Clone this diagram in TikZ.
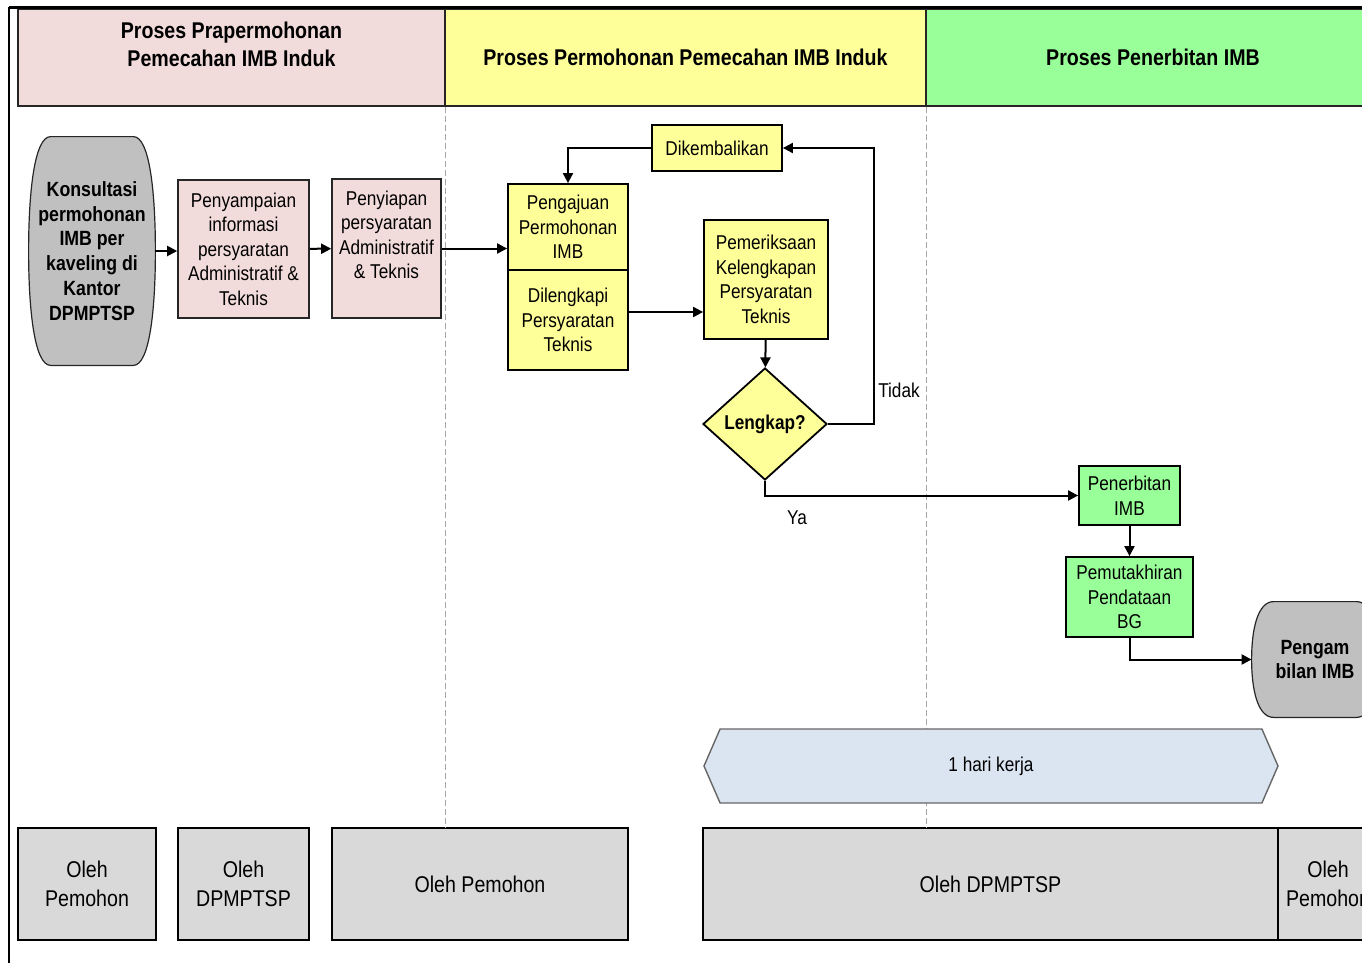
\documentclass[tikz,border=0pt]{standalone}
\usepackage{fontspec}
\setmainfont{Liberation Sans}[FakeStretch=0.86]
\usepackage{xcolor}
\usepackage{tikz}
\usetikzlibrary{positioning,shapes.geometric,shapes.symbols,arrows.meta,backgrounds}
\definecolor{hdrpink}{HTML}{F2DCDB}
\definecolor{hdryel}{HTML}{FFFF99}
\definecolor{hdrgrn}{HTML}{99FF99}
\definecolor{termgray}{HTML}{C0C0C0}
\definecolor{ohgray}{HTML}{D9D9D9}
\definecolor{harifill}{HTML}{DBE5F1}

\begin{document}
\begin{tikzpicture}[x=0.5pt,y=-0.5pt,
  every node/.style={font=\fontsize{10}{12.25}\selectfont,align=center,inner sep=2pt},
  hdr/.style={rectangle,draw=black!85,line width=0.8pt,minimum height=48.5pt,
              font=\bfseries\fontsize{11.4}{14}\selectfont},
  pbox/.style={rectangle,draw=black!85,line width=0.8pt,fill=hdrpink},
  ybox/.style={rectangle,draw=black,line width=0.9pt,fill=hdryel},
  gbox/.style={rectangle,draw=black,line width=0.9pt,fill=hdrgrn},
  termtxt/.style={rectangle,font=\bfseries\fontsize{10.3}{12.4}\selectfont},
  termline/.style={draw=black!85,line width=0.6pt,fill=termgray},
  ohbox/.style={rectangle,draw=black,line width=0.9pt,fill=ohgray,minimum height=56pt,
               font=\fontsize{11.4}{14.5}\selectfont},
  lane/.style={gray!70,dash pattern=on 3pt off 1.5pt,line width=0.6pt},
  arr/.style={-{Triangle[length=5pt,width=5pt]},line width=1pt},
  lbl/.style={font=\fontsize{10}{12}\selectfont},
]
\clip (0,0) rectangle (1362,965);

% lanes
\node[hdr,fill=hdrpink,minimum width=213.5pt] (hdrA) at (231.5,57.5) {};
\node[hdr,fill=hdryel,minimum width=240.5pt] (hdrB) at (685.5,57.5) {Proses Permohonan Pemecahan IMB Induk};
\node[hdr,fill=hdrgrn,minimum width=227pt] (hdrC) at (1153,57.5) {Proses Penerbitan IMB};
\node[font=\bfseries\fontsize{11.4}{14}\selectfont] (hdrAtxt) at (231.5,44) {Proses Prapermohonan\\Pemecahan IMB Induk};
\draw[line width=1pt] (9,963) -- (9,7);
\draw[line width=1.5pt] (9,7) -- (1370,7);

% bottom row
\node[ohbox,minimum width=69pt] (oleh1) at (87,884) {Oleh\\Pemohon};
\node[ohbox,minimum width=65.5pt] (oleh2) at (243.5,884) {Oleh\\DPMPTSP};
\node[ohbox,minimum width=148pt] (oleh3) at (480,884) {Oleh Pemohon};
\node[ohbox,minimum width=287.5pt] (oleh4) at (990.5,884) {Oleh DPMPTSP};
\node[ohbox,minimum width=50pt] (oleh5) at (1328,884) {Oleh\\Pemohon};

\draw[lane] (hdrA.south east) -- (hdrA.south east |- oleh3.north);
\draw[lane] (hdrB.south east) -- (hdrB.south east |- oleh4.north);

% prapermohonan
\node[termtxt,minimum width=63pt,minimum height=114pt] (konsul) at (92,251)
  {Konsultasi\\permohonan\\IMB per\\kaveling di\\Kantor\\DPMPTSP};
\node[pbox,minimum width=65.5pt,minimum height=69pt] (sampai) at (243.5,249)
  {Penyampaian\\informasi\\persyaratan\\Administratif \&\\Teknis};
\node[pbox,minimum width=54.5pt,minimum height=69.5pt] (siap) at (386.5,248.5) {};
\node (siapTxt) at ([yshift=6.75pt]siap.center) {Penyiapan\\persyaratan\\Administratif\\\& Teknis};

% permohonan
\node[ybox,minimum width=60pt,minimum height=43pt] (ajuan) at (568,227) {Pengajuan\\Permohonan\\IMB};
\node[ybox,minimum width=60pt,minimum height=50pt] (lengkapi) at (568,320) {Dilengkapi\\Persyaratan\\Teknis};
\node[ybox,minimum width=65pt,minimum height=23pt] (kembali) at (717,148) {Dikembalikan};
\node[ybox,minimum width=62pt,minimum height=59.5pt] (periksa) at (766,279.5)
  {Pemeriksaan\\Kelengkapan\\Persyaratan\\Teknis};
\node[diamond,draw=black,line width=0.9pt,fill=hdryel,inner sep=0pt,aspect=1,
      minimum width=62pt,minimum height=56pt,font=\bfseries\fontsize{10}{12}\selectfont] (cek) at (765,424) {Lengkap?};

% penerbitan
\node[gbox,minimum width=50.5pt,minimum height=29.5pt] (terbit) at (1129.5,495.5) {Penerbitan\\IMB};
\node[gbox,minimum width=63.5pt,minimum height=40pt] (mutakhir) at (1129.5,597) {Pemutakhiran\\Pendataan\\BG};
\node[termtxt,minimum width=63pt,minimum height=57.5pt] (ambil) at (1315,659.5) {Pengam\\bilan IMB};

\node[signal,signal to=east and west,signal pointer angle=133,draw=gray!80!black,line width=0.7pt,
      fill=harifill,minimum width=287pt,minimum height=37pt] (hari) at (991,766) {1 hari kerja};

\begin{scope}[on background layer]
\draw[termline] ([xshift=11pt]konsul.north west) -- ([xshift=-11pt]konsul.north east)
  .. controls ([xshift=-3pt]konsul.north east) and ([yshift=30pt]konsul.east) .. (konsul.east)
  .. controls ([yshift=-30pt]konsul.east) and ([xshift=-3pt]konsul.south east) .. ([xshift=-11pt]konsul.south east)
  -- ([xshift=11pt]konsul.south west)
  .. controls ([xshift=3pt]konsul.south west) and ([yshift=-30pt]konsul.west) .. (konsul.west)
  .. controls ([yshift=30pt]konsul.west) and ([xshift=3pt]konsul.north west) .. ([xshift=11pt]konsul.north west)
  -- cycle;
\draw[termline] ([xshift=11pt]ambil.north west) -- ([xshift=-11pt]ambil.north east)
  .. controls ([xshift=-3pt]ambil.north east) and ([yshift=15pt]ambil.east) .. (ambil.east)
  .. controls ([yshift=-15pt]ambil.east) and ([xshift=-3pt]ambil.south east) .. ([xshift=-11pt]ambil.south east)
  -- ([xshift=11pt]ambil.south west)
  .. controls ([xshift=3pt]ambil.south west) and ([yshift=-15pt]ambil.west) .. (ambil.west)
  .. controls ([yshift=15pt]ambil.west) and ([xshift=3pt]ambil.north west) .. ([xshift=11pt]ambil.north west)
  -- cycle;
\end{scope}

\coordinate (tidakTurn) at (874,424);
\node[lbl] (tidak) at (899,390) {Tidak};
\node[lbl] (ya) at (797,518) {Ya};

\draw[arr] (konsul.east) -- (konsul.east -| sampai.west);
\draw[arr] (sampai) -- (siap);
\draw[arr] (siap.east) -- (siap.east -| ajuan.west);
\draw[arr] ([yshift=4pt]lengkapi.east) -- ([yshift=4pt]lengkapi.east -| periksa.west);
\draw[arr] (periksa) -- (cek);
\draw[arr] (cek.east) -- (tidakTurn) |- (kembali.east);
\draw[arr] (kembali.west) -| (ajuan.north);
\draw[arr] (cek.south) |- (terbit.west);
\draw[arr] (terbit) -- (mutakhir);
\draw[arr] (mutakhir.south) |- (ambil.west);
\end{tikzpicture}
\end{document}
